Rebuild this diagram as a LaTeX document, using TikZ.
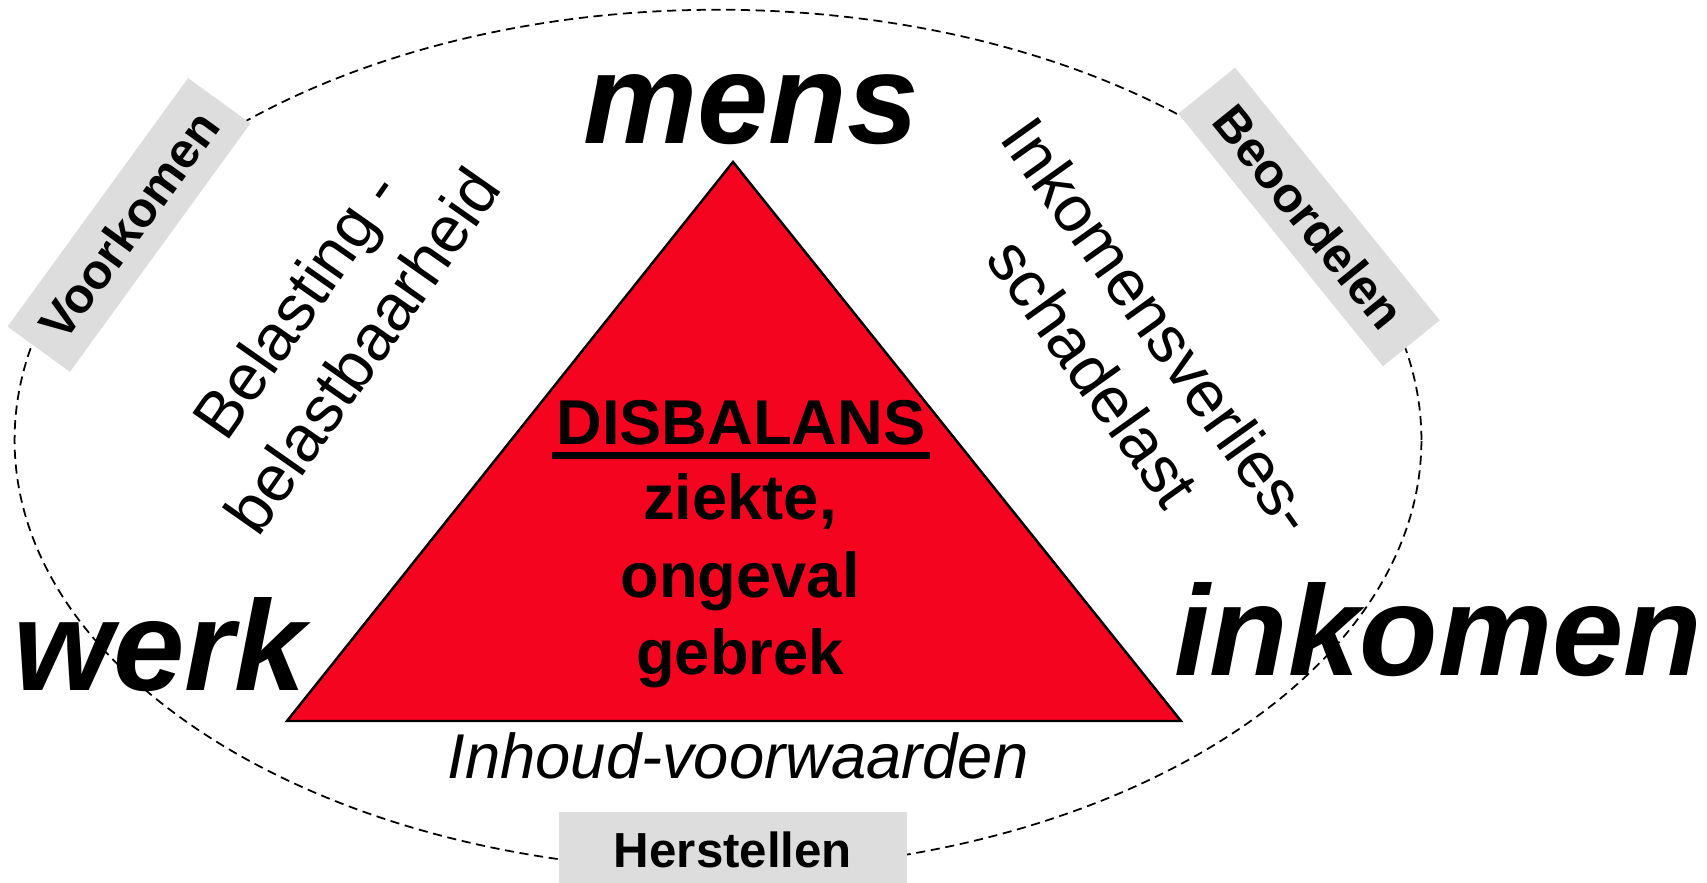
\documentclass[tikz,border=0pt]{standalone}
\usepackage{fontspec}
\setmainfont{Liberation Sans}
\definecolor{alarmred}{RGB}{244,4,30}
\definecolor{boxgray}{RGB}{221,221,221}

\begin{document}
\begin{tikzpicture}[x=0.01cm, y=0.01cm,
  bigword/.style={font=\fontsize{36.5}{44}\selectfont\bfseries\itshape, inner sep=0pt, anchor=base},
  redline/.style={font=\fontsize{18}{22}\selectfont\bfseries, inner sep=0pt, anchor=base},
  sidetext/.style={font=\fontsize{18.5}{23}\selectfont, align=center, inner sep=0pt},
  graybox/.style={fill=boxgray, font=\fontsize{14}{17}\selectfont\bfseries, inner sep=0pt}]

% Fix the page size
\useasboundingbox (0,0) rectangle (1707,882);

% Dashed ellipse round everything
\draw[dash pattern=on 2.6pt off 1.6pt, line width=0.5pt] (718,442) ellipse [x radius=7.03cm, y radius=4.30cm];

% Define triangle corners
\coordinate (T) at (733,720);
\coordinate (L) at (287,161);
\coordinate (R) at (1181,161);

% Draw red triangle
\draw[fill=alarmred, line width=0.7pt] (L) -- (T) -- (R) -- cycle;

% Text inside the triangle
\node[redline] (dis) at (741,437) {DISBALANS};
\draw[line width=1.8pt] ([xshift=-1pt, yshift=-3pt]dis.base west) -- ([xshift=1pt, yshift=-3pt]dis.base east);
\node[redline] (ziekte) at (740,362) {ziekte,};
\node[redline] (ongeval) at (740,284) {ongeval};
\node[redline] (gebrek) at (740,207) {gebrek};

% Corner words
\node[bigword] (mens) at (751,738) {mens};
\node[bigword] (werk) at (160,192) {werk};
\node[bigword] (inkomen) at (1438,206) {inkomen};

% Side texts
\node[sidetext, rotate=55] (belasting) at (329,555) {Belasting -\\belastbaarheid};
\node[sidetext, rotate=-54.5] (schade) at (1127,533) {Inkomensverlies-\\schadelast};
\node[sidetext, font=\fontsize{18}{22}\selectfont\itshape, anchor=base] (inhoud) at (738,104) {Inhoud-voorwaarden};

% Gray boxes on the ellipse
\node[graybox, minimum width=3.07cm, minimum height=0.77cm, rotate=54] (voorkomen) at (129,657) {Voorkomen};
\node[graybox, minimum width=3.25cm, minimum height=0.73cm, rotate=-51] (beoordelen) at (1309,665) {Beoordelen};
\node[graybox, minimum width=3.48cm, minimum height=0.75cm] (herstellen) at (733,32) {Herstellen};

\end{tikzpicture}
\end{document}
